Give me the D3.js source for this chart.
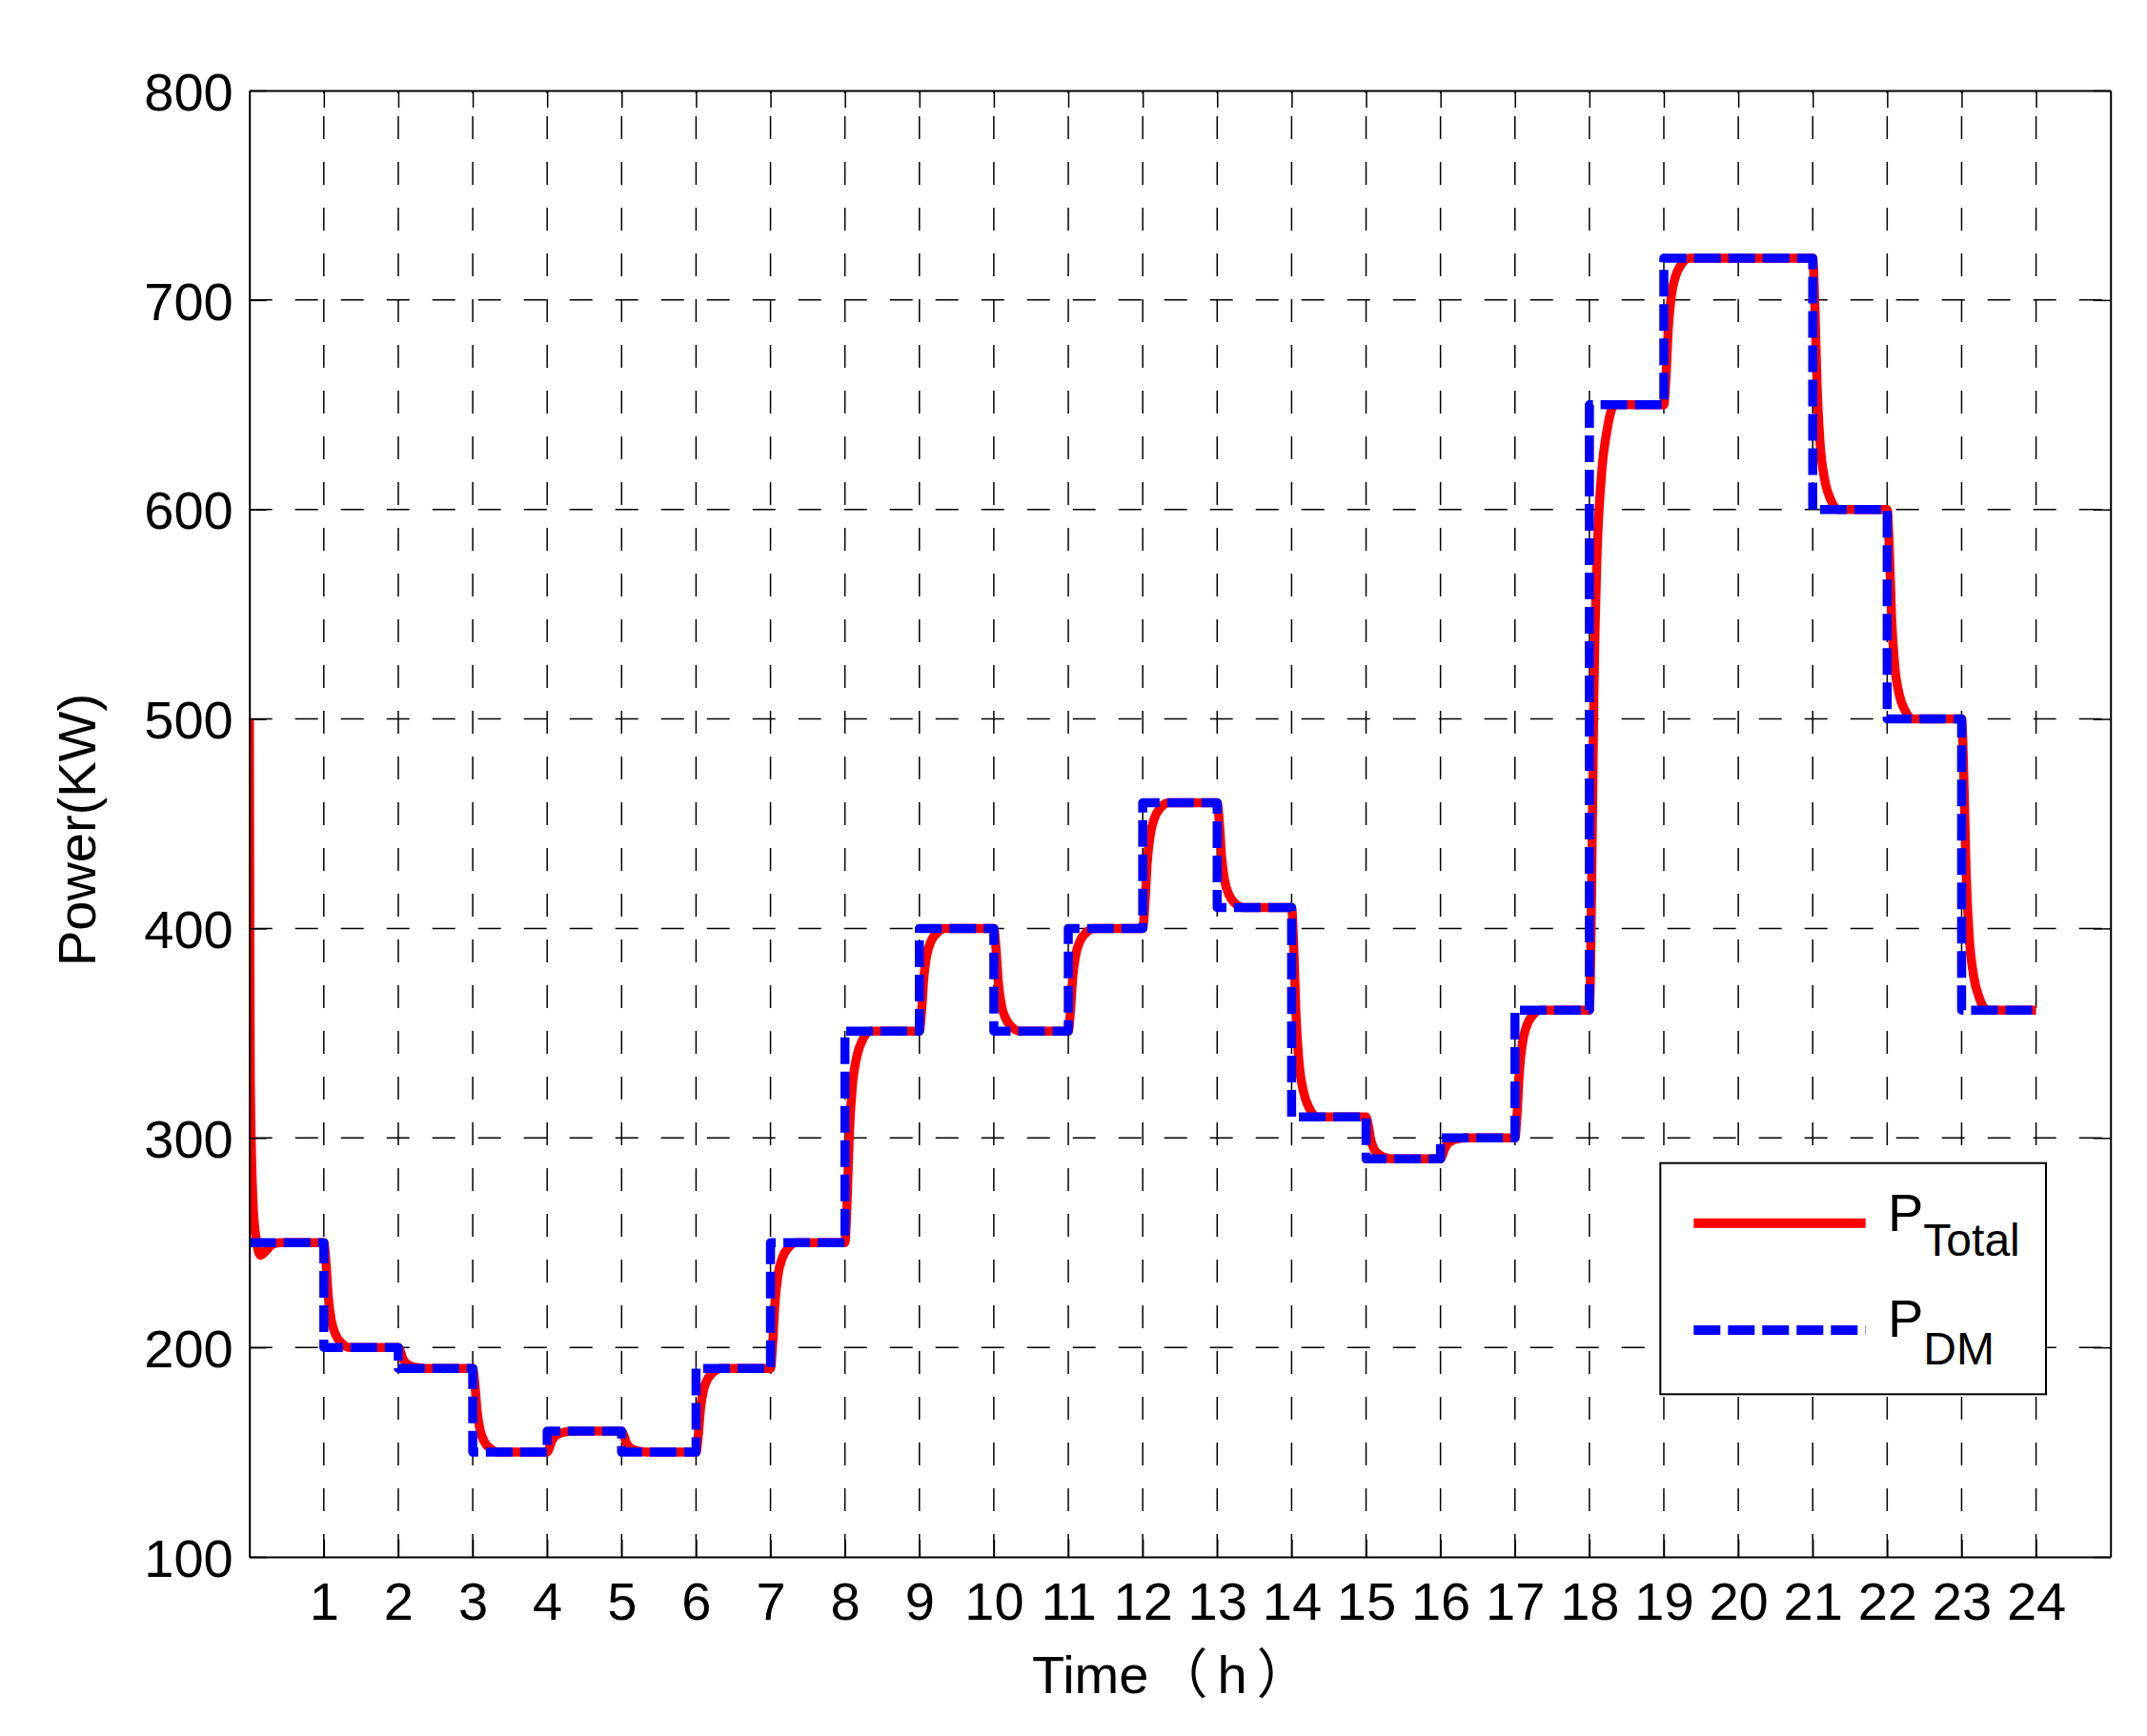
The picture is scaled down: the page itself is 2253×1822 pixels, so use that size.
<!DOCTYPE html>
<html><head><meta charset="utf-8">
<script src="https://cdn.jsdelivr.net/npm/d3@7"></script>
<style>body{margin:0;background:#fff} svg{display:block}</style>
</head><body>
<svg id="chart" width="2253" height="1822"></svg>
<script>
// ---- data ----
const hours = [0,1,2,3,4,5,6,7,8,9,10,11,12,13,14,15,16,17,18,19,20,21,22,23];
const pdmValues = [250,200,190,150,160,150,190,250,351,400,351,400,460,410,310,290,300,361,650,720,720,600,500,361];
const xTickValues = [1,2,3,4,5,6,7,8,9,10,11,12,13,14,15,16,17,18,19,20,21,22,23,24];
const yTickValues = [100,200,300,400,500,600,700,800];
const legendLabels = ["Total","DM"];
const pTotalPoints = [
[0,500],[0.005,420],[0.012,330],[0.03,290],[0.05,268],[0.09,252],[0.15,244],[0.22,246],[0.3,249],[0.4,250],
[1,250],[1.03,240],[1.06,224],[1.1,213],[1.16,206],[1.24,202],[1.34,200],
[2,200],[2.03,198],[2.06,194.8],[2.1,192.6],[2.16,191.2],[2.24,190.4],[2.34,190],
[3,190],[3.03,182],[3.06,169.2],[3.1,160.4],[3.16,154.8],[3.24,151.6],[3.34,150],
[4,150],[4.03,152],[4.06,155.2],[4.1,157.4],[4.16,158.8],[4.24,159.6],[4.34,160],
[5,160],[5.03,158],[5.06,154.8],[5.1,152.6],[5.16,151.2],[5.24,150.4],[5.34,150],
[6,150],[6.03,158],[6.06,170.8],[6.1,179.6],[6.16,185.2],[6.24,188.4],[6.34,190],
[7,190],[7.03,202],[7.06,221.2],[7.1,234.4],[7.16,242.8],[7.24,247.6],[7.34,250],
[8,250],[8.03,270.2],[8.06,302.5],[8.1,324.7],[8.16,338.9],[8.24,347],[8.34,351],
[9,351],[9.03,360.8],[9.06,376.5],[9.1,387.3],[9.16,394.1],[9.24,398],[9.34,400],
[10,400],[10.03,390.2],[10.06,374.5],[10.1,363.7],[10.16,356.9],[10.24,353],[10.34,351],
[11,351],[11.03,360.8],[11.06,376.5],[11.1,387.3],[11.16,394.1],[11.24,398],[11.34,400],
[12,400],[12.03,412],[12.06,431.2],[12.1,444.4],[12.16,452.8],[12.24,457.6],[12.34,460],
[13,460],[13.03,450],[13.06,434],[13.1,423],[13.16,416],[13.24,412],[13.34,410],
[14,410],[14.03,390],[14.06,358],[14.1,336],[14.16,322],[14.24,314],[14.34,310],
[15,310],[15.03,306],[15.06,299.6],[15.1,295.2],[15.16,292.4],[15.24,290.8],[15.34,290],
[16,290],[16.03,292],[16.06,295.2],[16.1,297.4],[16.16,298.8],[16.24,299.6],[16.34,300],
[17,300],[17.03,312.2],[17.06,331.7],[17.1,345.1],[17.16,353.7],[17.24,358.6],[17.34,361],
[18,361],[18.03,418.8],[18.06,511.3],[18.1,574.9],[18.16,615.3],[18.24,638.4],[18.34,650],
[19,650],[19.03,664],[19.06,686.4],[19.1,701.8],[19.16,711.6],[19.24,717.2],[19.34,720],
[21,720],[21.03,696],[21.06,657.6],[21.1,631.2],[21.16,614.4],[21.24,604.8],[21.34,600],
[22,600],[22.03,580],[22.06,548],[22.1,526],[22.16,512],[22.24,504],[22.34,500],
[23,500],[23.03,472.2],[23.06,427.7],[23.1,397.1],[23.16,377.7],[23.24,366.6],[23.34,361],
[24,361]
];

// ---- layout ----
const FONT = '"Liberation Sans", Arial, "Noto Sans CJK SC", sans-serif';
const plot = {left: 261.7, right: 2214.7, top: 95, bottom: 1634};
const svg = d3.select("#chart");
const x = d3.scaleLinear().domain([0, 25]).range([plot.left, plot.right]);
const y = d3.scaleLinear().domain([100, 800]).range([plot.bottom, plot.top]);

svg.append("rect").attr("width", 2253).attr("height", 1822).attr("fill", "#fff");

// clip
svg.append("defs").append("clipPath").attr("id", "clip")
  .append("rect").attr("x", plot.left).attr("y", plot.top)
  .attr("width", plot.right - plot.left).attr("height", plot.bottom - plot.top);

// grid
const grid = svg.append("g").attr("stroke", "#000").attr("stroke-width", 1.5)
  .attr("stroke-dasharray", "24,24").attr("fill", "none");
grid.selectAll(".vg").data(xTickValues).join("line")
  .attr("x1", d => x(d)).attr("x2", d => x(d))
  .attr("y1", plot.bottom).attr("y2", plot.top);
grid.selectAll(".hg").data(yTickValues.filter(v => v > 100 && v < 800)).join("line")
  .attr("x1", plot.left).attr("x2", plot.right)
  .attr("y1", d => y(d)).attr("y2", d => y(d));

// series
const lines = svg.append("g").attr("clip-path", "url(#clip)");
const redLine = d3.line().x(d => x(d[0])).y(d => y(d[1])).curve(d3.curveMonotoneX);
lines.append("path").datum(pTotalPoints)
  .attr("d", redLine).attr("fill", "none").attr("stroke", "#ff0000")
  .attr("stroke-width", 9.5).attr("stroke-linejoin", "round");

const pdmPoints = hours.map((h, i) => [h, pdmValues[i]]);
pdmPoints.push([24, pdmValues[pdmValues.length - 1]]);
const blueLine = d3.line().x(d => x(d[0])).y(d => y(d[1])).curve(d3.curveStepAfter);
lines.append("path").datum(pdmPoints)
  .attr("d", blueLine).attr("fill", "none").attr("stroke", "#0000ff")
  .attr("stroke-width", 9.5).attr("stroke-dasharray", "28,8")
  .attr("stroke-linejoin", "round");

// axes
function styleAxis(g) {
  g.select(".domain").attr("stroke", "#000").attr("stroke-width", 2);
  g.selectAll(".tick line").attr("stroke", "#000").attr("stroke-width", 1.5);
  g.selectAll("text").attr("font-family", FONT).attr("font-size", 56).attr("fill", "#000");
}
const xAxis = svg.append("g").attr("transform", `translate(0,${plot.bottom})`)
  .call(d3.axisBottom(x).tickValues(xTickValues).tickSize(-18).tickSizeOuter(0));
styleAxis(xAxis);
xAxis.selectAll("text").attr("dy", 0).attr("y", 66);

const yAxis = svg.append("g").attr("transform", `translate(${plot.left},0)`)
  .call(d3.axisLeft(y).tickValues(yTickValues).tickSize(-18).tickSizeOuter(0));
styleAxis(yAxis);
yAxis.selectAll("text").attr("x", -17).attr("dy", "0.36em");

const xTop = svg.append("g").attr("transform", `translate(0,${plot.top})`)
  .call(d3.axisTop(x).tickValues(xTickValues).tickSize(-18).tickSizeOuter(0).tickFormat(""));
styleAxis(xTop);
const yRight = svg.append("g").attr("transform", `translate(${plot.right},0)`)
  .call(d3.axisRight(y).tickValues(yTickValues).tickSize(-18).tickSizeOuter(0).tickFormat(""));
styleAxis(yRight);

// axis titles
const xt = svg.append("text").attr("x", 1083).attr("y", 1777)
  .attr("font-family", FONT).attr("font-size", 56).attr("fill", "#000");
xt.append("tspan").text("Time");
xt.append("tspan").attr("dx", 6).text("（");
xt.append("tspan").attr("dx", 10).text("h");
xt.append("tspan").attr("dx", 10).text("）");
svg.append("text").attr("transform", "translate(100,871) rotate(-90)")
  .attr("text-anchor", "middle")
  .attr("font-family", FONT).attr("font-size", 56).attr("fill", "#000")
  .text("Power(KW)");

// legend
const lg = svg.append("g");
lg.append("rect").attr("x", 1742.3).attr("y", 1220.7).attr("width", 404.7).attr("height", 242.6)
  .attr("fill", "#fff").attr("stroke", "#000").attr("stroke-width", 2);
lg.append("line").attr("x1", 1777.3).attr("x2", 1957.7).attr("y1", 1283.7).attr("y2", 1283.7)
  .attr("stroke", "#ff0000").attr("stroke-width", 10);
lg.append("line").attr("x1", 1777.3).attr("x2", 1957.7).attr("y1", 1396).attr("y2", 1396)
  .attr("stroke", "#0000ff").attr("stroke-width", 10).attr("stroke-dasharray", "28,8");
const legY = [1291.7, 1403.3];
const subDy = [26.3, 29];
legendLabels.forEach((lab, i) => {
  const t = lg.append("text").attr("x", 1981).attr("y", legY[i])
    .attr("font-family", FONT).attr("font-size", 56).attr("fill", "#000");
  t.append("tspan").text("P");
  t.append("tspan").attr("dy", subDy[i]).attr("font-size", 48).text(lab);
});
</script>
</body></html>
